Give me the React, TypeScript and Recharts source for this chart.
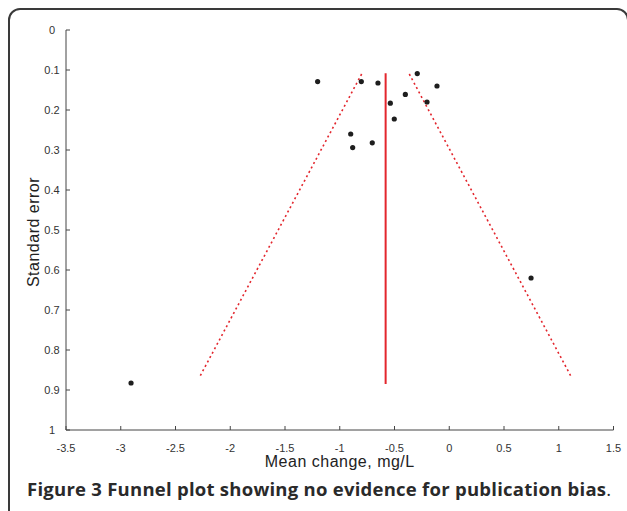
import { ScatterChart, Scatter, XAxis, YAxis, ReferenceLine, Label } from "recharts";

// x ticks (mean change, mg/L) and y ticks (standard error, reversed)
const X_TICKS = [-3.5, -3, -2.5, -2, -1.5, -1, -0.5, 0, 0.5, 1, 1.5];
const Y_TICKS = [0, 0.1, 0.2, 0.3, 0.4, 0.5, 0.6, 0.7, 0.8, 0.9, 1];

// one entry per study
const meanChange = [-1.202, -0.803, -0.651, -0.292, -0.112, -0.401, -0.538, -0.203, -0.502, -0.9, -0.882, -0.703, 0.747, -2.906];
const standardError = [0.129, 0.129, 0.1325, 0.109, 0.14, 0.161, 0.183, 0.18, 0.2225, 0.26, 0.294, 0.282, 0.62, 0.8825];

// pooled estimate line and funnel limits
const pooledMean = -0.581;
const pooledSe = [0.108, 0.885];
const funnelLeftX = [-0.8, -2.283];
const funnelRightX = [-0.365, 1.118];
const funnelSe = [0.11, 0.869];

const RED = "#e3262d";
const AXIS = "#444";
const FONT = "'Liberation Sans', Arial, sans-serif";

const studies = meanChange.map((x, i) => ({ x, y: standardError[i] }));
const funnelLeft = funnelLeftX.map((x, i) => ({ x, y: funnelSe[i] }));
const funnelRight = funnelRightX.map((x, i) => ({ x, y: funnelSe[i] }));

const dot = (p: any) => <circle cx={p.cx} cy={p.cy} r={2.6} fill="#1e1e1e" />;
const noDot = () => <g />;

export default function App() {
  return (
    <div
      style={{
        position: "fixed",
        left: 0,
        top: 0,
        width: 627,
        height: 511,
        overflow: "hidden",
        background: "#fff",
      }}
    >
      <div
        style={{
          position: "absolute",
          left: 8,
          top: 8,
          width: 617,
          height: 520,
          border: "2px solid #3a3a3a",
          borderRadius: 12,
        }}
      />
      <div style={{ position: "absolute", left: 0, top: 0 }}>
        <ScatterChart width={627} height={480} margin={{ top: 30, right: 13.5, bottom: 10, left: 26 }}>
          <XAxis
            type="number"
            dataKey="x"
            domain={[-3.5, 1.5]}
            ticks={X_TICKS}
            interval={0}
            height={40}
            allowDataOverflow
            axisLine={{ stroke: AXIS }}
            tickLine={{ stroke: AXIS }}
            tickSize={-4}
            tickMargin={18}
            tick={{ fill: "#333", fontSize: 11, fontFamily: FONT }}
          >
            <Label
              content={(props: any) => {
                const vb = props.viewBox;
                return (
                  <text
                    x={vb.x + vb.width / 2}
                    y={vb.y + 36.5}
                    textAnchor="middle"
                    fontSize={16}
                    letterSpacing={0.5}
                    fontFamily={FONT}
                    fill="#222"
                  >
                    Mean change, mg/L
                  </text>
                );
              }}
            />
          </XAxis>
          <YAxis
            type="number"
            dataKey="y"
            domain={[0, 1]}
            reversed
            ticks={Y_TICKS}
            interval={0}
            width={40}
            allowDataOverflow
            axisLine={{ stroke: AXIS }}
            tickLine={{ stroke: AXIS }}
            tickSize={-4}
            tickMargin={18}
            tick={{ fill: "#333", fontSize: 11, fontFamily: FONT, textAnchor: "middle" }}
          >
            <Label
              content={(props: any) => {
                const vb = props.viewBox;
                const cx = vb.x + 7;
                const cy = vb.y + vb.height / 2 + 2;
                return (
                  <text
                    x={cx}
                    y={cy}
                    transform={`rotate(-90 ${cx} ${cy})`}
                    textAnchor="middle"
                    dominantBaseline="central"
                    fontSize={16}
                    letterSpacing={0.5}
                    fontFamily={FONT}
                    fill="#222"
                  >
                    Standard error
                  </text>
                );
              }}
            />
          </YAxis>
          <Scatter
            data={funnelLeft}
            line={{ stroke: RED, strokeWidth: 1.6, strokeDasharray: "2 3" }}
            shape={noDot}
            isAnimationActive={false}
          />
          <Scatter
            data={funnelRight}
            line={{ stroke: RED, strokeWidth: 1.6, strokeDasharray: "2 3" }}
            shape={noDot}
            isAnimationActive={false}
          />
          <ReferenceLine
            segment={[
              { x: pooledMean, y: pooledSe[0] },
              { x: pooledMean, y: pooledSe[1] },
            ]}
            stroke={RED}
            strokeWidth={2}
          />
          <Scatter data={studies} shape={dot} isAnimationActive={false} />
        </ScatterChart>
      </div>
      <div
        style={{
          position: "absolute",
          left: 27,
          top: 476,
          fontFamily: "'Open Sans', sans-serif",
          fontSize: 18.5,
          letterSpacing: 0.25,
          color: "#2a2a2a",
          whiteSpace: "nowrap",
        }}
      >
        <b>Figure 3 Funnel plot showing no evidence for publication bias</b>.
      </div>
    </div>
  );
}
